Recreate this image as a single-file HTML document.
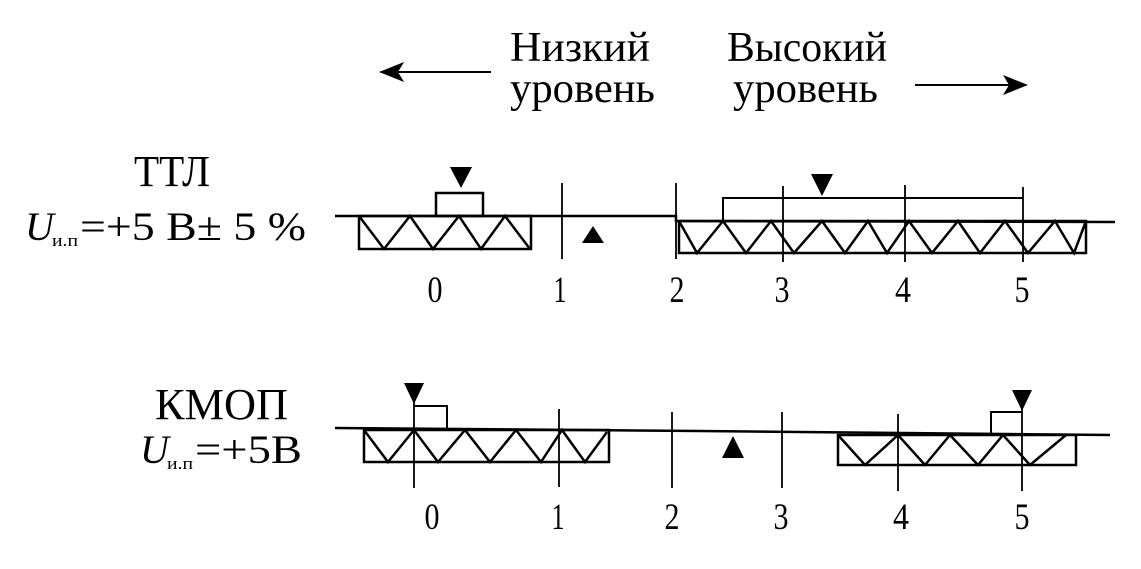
<!DOCTYPE html>
<html><head><meta charset="utf-8"><style>html,body{margin:0;padding:0;background:#fff}svg{display:block}text{font-family:"Liberation Serif","DejaVu Serif",serif;fill:#000}</style></head>
<body>
<svg width="1141" height="569" viewBox="0 0 1141 569" xmlns="http://www.w3.org/2000/svg">
<g stroke="#000" fill="none" stroke-width="2">
<line x1="392" y1="72" x2="491" y2="72"/>
<line x1="915" y1="85" x2="1012" y2="85"/>
</g>
<polygon points="379,72 404,62 398,72 404,82" fill="#000"/>
<polygon points="1028,85 1003,75 1009,85 1003,95" fill="#000"/>
<text x="510" y="61" font-size="42" textLength="140" lengthAdjust="spacingAndGlyphs">Низкий</text>
<text x="510" y="102" font-size="42" textLength="145" lengthAdjust="spacingAndGlyphs">уровень</text>
<text x="727" y="61" font-size="42" textLength="160" lengthAdjust="spacingAndGlyphs">Высокий</text>
<text x="733" y="102" font-size="42" textLength="145" lengthAdjust="spacingAndGlyphs">уровень</text>

<text x="134" y="186" font-size="44" textLength="76" lengthAdjust="spacingAndGlyphs">ТТЛ</text>
<text x="25" y="240" font-size="40" font-style="italic">U</text>
<text x="52" y="246" font-size="17" textLength="26" lengthAdjust="spacingAndGlyphs">и.п</text>
<text x="80" y="240" font-size="40" textLength="226" lengthAdjust="spacingAndGlyphs">=+5 В± 5 %</text>
<text x="155" y="419" font-size="44" textLength="133" lengthAdjust="spacingAndGlyphs">КМОП</text>
<text x="140" y="463" font-size="40" font-style="italic">U</text>
<text x="167" y="469" font-size="17" textLength="26" lengthAdjust="spacingAndGlyphs">и.п</text>
<text x="195" y="463" font-size="40" textLength="107" lengthAdjust="spacingAndGlyphs">=+5В</text>

<g stroke="#000" fill="none" stroke-width="2.5">
<polyline points="335,216 676,216 676,221 1115,222"/>
<rect x="359" y="216" width="172" height="33"/>
<polyline points="359,216 384,249 410,216 433,249 459,216 481,249 505,216 530,249"/>
<rect x="436" y="193" width="47" height="23"/>
<rect x="679" y="221" width="407" height="32"/>
<polyline points="679,221 697,253 723,221 746,253 771,221 794,253 822,221 845,253 868,221 887,253 909,221 932,253 958,221 980,253 1005,221 1028,253 1055,221 1074,253 1086,221"/>
<polyline points="723,221 723,198 1023,198" stroke-width="2"/>
<g stroke-width="1.8">
<line x1="562" y1="183" x2="562" y2="259"/>
<line x1="676" y1="183" x2="676" y2="259"/>
<line x1="783" y1="186" x2="783" y2="262"/>
<line x1="905" y1="185" x2="905" y2="262"/>
<line x1="1023" y1="187" x2="1023" y2="262"/>
</g>
<polyline points="335,428 700,431 1110,435"/>
<rect x="364" y="430" width="245" height="32"/>
<polyline points="364,430 388,462 414,430 438,462 465,430 490,462 516,430 541,462 562,430 585,462 607,432"/>
<rect x="838" y="435" width="238" height="30"/>
<polyline points="838,435 865,465 898,435 925,465 950,435 978,465 1003,435 1030,465 1066,435"/>
<polyline points="414,406 447,406 447,429" stroke-width="2"/>
<polyline points="991,433 991,412 1022,412" stroke-width="2"/>
<g stroke-width="1.8">
<line x1="414" y1="385" x2="414" y2="488"/>
<line x1="559" y1="409" x2="559" y2="487"/>
<line x1="672" y1="412" x2="672" y2="488"/>
<line x1="782" y1="412" x2="782" y2="488"/>
<line x1="898" y1="414" x2="898" y2="491"/>
<line x1="1022" y1="391" x2="1022" y2="491"/>
</g>
</g>
<g fill="#000">
<polygon points="450,167 472,167 461,188"/>
<polygon points="593,226 582,243 604,243"/>
<polygon points="811,174 833,174 822,196"/>
<polygon points="404,383 424,383 414,404"/>
<polygon points="733,436 722,458 744,458"/>
<polygon points="1012,390 1032,390 1022,411"/>
</g>
<g font-size="37" text-anchor="middle">
<text x="435" y="302" textLength="15" lengthAdjust="spacingAndGlyphs">0</text><text x="560" y="302" textLength="13" lengthAdjust="spacingAndGlyphs">1</text><text x="677" y="302" textLength="15" lengthAdjust="spacingAndGlyphs">2</text><text x="782" y="302" textLength="15" lengthAdjust="spacingAndGlyphs">3</text><text x="903" y="302" textLength="16" lengthAdjust="spacingAndGlyphs">4</text><text x="1022" y="302" textLength="15" lengthAdjust="spacingAndGlyphs">5</text>
<text x="432" y="529" textLength="15" lengthAdjust="spacingAndGlyphs">0</text><text x="558" y="529" textLength="13" lengthAdjust="spacingAndGlyphs">1</text><text x="672" y="529" textLength="15" lengthAdjust="spacingAndGlyphs">2</text><text x="781" y="529" textLength="15" lengthAdjust="spacingAndGlyphs">3</text><text x="901" y="529" textLength="16" lengthAdjust="spacingAndGlyphs">4</text><text x="1022" y="529" textLength="15" lengthAdjust="spacingAndGlyphs">5</text>
</g>
</svg>
</body></html>
